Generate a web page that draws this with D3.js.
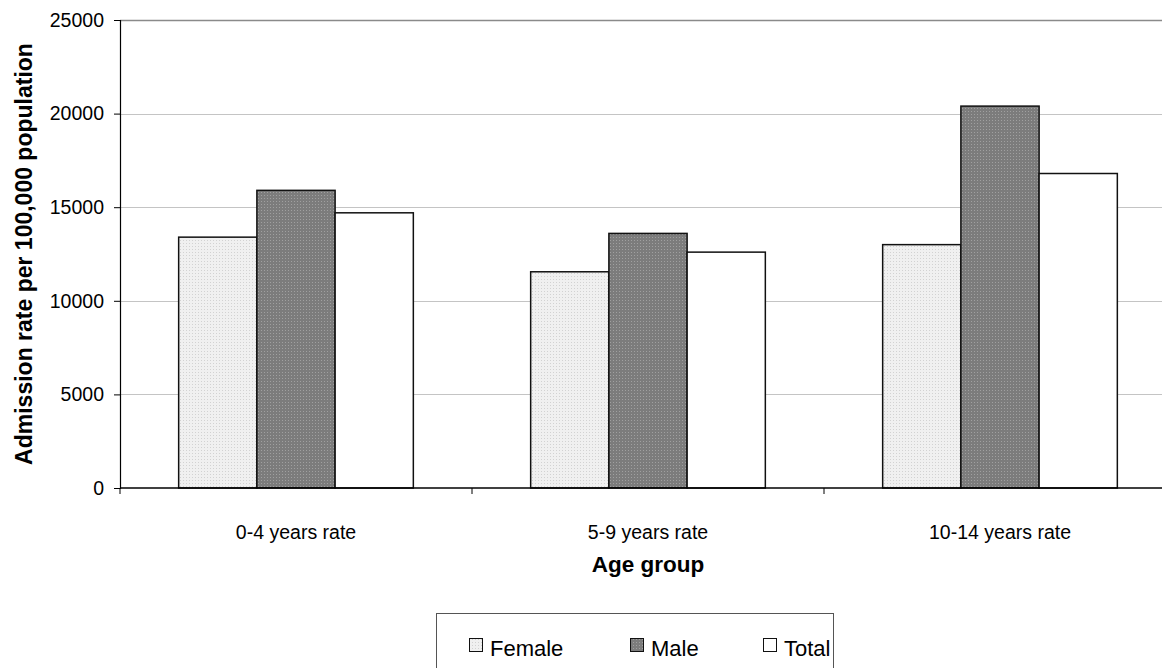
<!DOCTYPE html>
<html>
<head>
<meta charset="utf-8">
<script src="https://cdn.jsdelivr.net/npm/d3@7"></script>
<style>
  body { margin: 0; background: #fff; }
  svg { display: block; font-family: "Liberation Sans", Arial, sans-serif; }
</style>
</head>
<body>
<script>
// data
var categories = ["0-4 years rate", "5-9 years rate", "10-14 years rate"];
var seriesNames = ["Female", "Male", "Total"];
var female = [13400, 11550, 13000];
var male = [15900, 13600, 20400];
var total = [14700, 12600, 16800];
var yTicks = [0, 5000, 10000, 15000, 20000, 25000];

var width = 1162, height = 668;
var margin = {top: 20, left: 120, bottom: 488, right: 1176};

var svg = d3.select("body").append("svg")
    .attr("width", width)
    .attr("height", height);

// fill patterns
var defs = svg.append("defs");
function dots(id, base, dot) {
  var p = defs.append("pattern")
      .attr("id", id)
      .attr("width", 3).attr("height", 3)
      .attr("patternUnits", "userSpaceOnUse");
  p.append("rect").attr("width", 3).attr("height", 3).attr("fill", base);
  p.append("rect").attr("width", 1).attr("height", 1).attr("fill", dot);
}
dots("pf", "#f0f0f0", "#d2d2d2");
dots("pm", "#7c7c7c", "#a0a0a0");
var fills = ["url(#pf)", "url(#pm)", "#ffffff"];

var x0 = d3.scaleBand()
    .domain(categories)
    .range([margin.left, margin.right]);

var x1 = d3.scaleBand()
    .domain(seriesNames)
    .range([0, x0.bandwidth()])
    .paddingInner(0)
    .paddingOuter(0.75);

var y = d3.scaleLinear()
    .domain([0, 25000])
    .range([margin.bottom, margin.top]);

// gridlines
svg.append("g")
  .selectAll("line")
  .data(yTicks.filter(d => d > 0))
  .join("line")
    .attr("x1", margin.left).attr("x2", width)
    .attr("y1", d => Math.round(y(d)) + 0.5)
    .attr("y2", d => Math.round(y(d)) + 0.5)
    .attr("stroke", d => d == 25000 ? "#8a8a8a" : "#c4c4c4")
    .attr("stroke-width", d => d == 25000 ? 1.5 : 1);

// bars
var rows = categories.map((c, i) => ({cat: c, vals: [female[i], male[i], total[i]]}));
svg.append("g")
  .selectAll("g")
  .data(rows)
  .join("g")
    .attr("transform", d => "translate(" + x0(d.cat) + ",0)")
  .selectAll("rect")
  .data(d => d.vals.map((v, j) => ({name: seriesNames[j], value: v, j: j})))
  .join("rect")
    .attr("x", d => x1(d.name))
    .attr("width", x1.bandwidth())
    .attr("y", d => y(d.value))
    .attr("height", d => y(0) - y(d.value))
    .attr("fill", d => fills[d.j])
    .attr("stroke", "#111")
    .attr("stroke-width", 1.5);

// y axis
var yAxis = svg.append("g")
    .attr("transform", "translate(" + margin.left + ",0)")
    .call(d3.axisLeft(y).tickValues(yTicks).tickSize(6).tickPadding(10).tickFormat(d3.format("d")));
yAxis.select(".domain").attr("stroke", "#000").attr("stroke-width", 1.2);
yAxis.selectAll(".tick line").attr("stroke", "#000");
yAxis.selectAll("text").attr("font-size", 19.5).attr("fill", "#000").attr("font-family", "Liberation Sans, Arial, sans-serif");

// x axis
svg.append("line")
    .attr("x1", margin.left).attr("x2", width)
    .attr("y1", y(0)).attr("y2", y(0))
    .attr("stroke", "#000").attr("stroke-width", 1.5);
svg.append("g")
  .selectAll("line")
  .data(categories.slice(1))
  .join("line")
    .attr("x1", d => x0(d)).attr("x2", d => x0(d))
    .attr("y1", y(0)).attr("y2", y(0) + 6)
    .attr("stroke", "#000");
svg.append("line")
    .attr("x1", margin.left).attr("x2", margin.left)
    .attr("y1", y(0)).attr("y2", y(0) + 6)
    .attr("stroke", "#000");

svg.append("g")
  .selectAll("text")
  .data(categories)
  .join("text")
    .attr("x", d => x0(d) + x0.bandwidth() / 2)
    .attr("y", 539)
    .attr("text-anchor", "middle")
    .attr("font-size", 19.5)
    .text(d => d);

// axis titles
svg.append("text")
    .attr("x", x0(categories[1]) + x0.bandwidth() / 2)
    .attr("y", 572)
    .attr("text-anchor", "middle")
    .attr("font-size", 22.5)
    .attr("font-weight", "bold")
    .text("Age group");

svg.append("text")
    .attr("transform", "translate(32," + (margin.top + margin.bottom) / 2 + ") rotate(-90)")
    .attr("text-anchor", "middle")
    .attr("font-size", 23)
    .attr("font-weight", "bold")
    .text("Admission rate per 100,000 population");

// legend
var legend = svg.append("g");
legend.append("rect")
    .attr("x", 436.5).attr("y", 613.5)
    .attr("width", 397).attr("height", 70)
    .attr("fill", "#fff")
    .attr("stroke", "#555");
var legX = [469, 630, 763];
var item = legend.selectAll("g.item")
  .data(seriesNames)
  .join("g")
    .attr("class", "item")
    .attr("transform", (d, i) => "translate(" + legX[i] + ",0)");
item.append("rect")
    .attr("x", 0.5).attr("y", 638.5)
    .attr("width", 13).attr("height", 13)
    .attr("fill", (d, i) => fills[i])
    .attr("stroke", "#111");
item.append("text")
    .attr("x", 21).attr("y", 656)
    .attr("font-size", 22)
    .text(d => d);
</script>
</body>
</html>
